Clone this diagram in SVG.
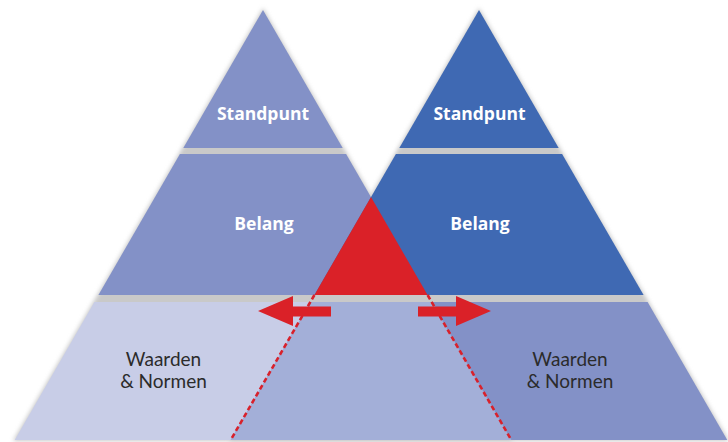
<svg xmlns="http://www.w3.org/2000/svg" width="728" height="442" viewBox="0 0 728 442">
<defs>
<filter id="sh" x="-10%" y="-10%" width="120%" height="120%">
<feGaussianBlur stdDeviation="2.2"/>
</filter>
<style>
.shadow{fill:#c9c9c9;filter:url(#sh)}
.lp{fill:#8391c7}
.rp{fill:#3f69b3}
.lb{fill:#c8cde7}
.ov{fill:#a3afd8}
.rb{fill:#8391c7}
.red{fill:#da2128}
.t1{font-family:"Open Sans",Lato,"Liberation Sans",sans-serif;font-weight:bold;font-size:17.5px;fill:#ffffff;text-anchor:middle}
.t2{font-family:Lato,"Open Sans","Liberation Sans",sans-serif;font-size:19px;fill:#2b2b2b;text-anchor:middle}
.dash{stroke:#d8212b;stroke-width:2.6;stroke-dasharray:5 3;fill:none}
</style>
</defs>
<rect width="728" height="442" fill="#ffffff"/>
<g id="shadows">
<polygon class="shadow" points="263,8 513,441 13,441"/>
<polygon class="shadow" points="479,8 729,441 229,441"/>
</g>
<g id="left-standpunt">
<polygon class="lp" points="263,10 342.7,148 183.3,148"/>
<text class="t1" x="263" y="120">Standpunt</text>
</g>
<g id="right-standpunt">
<polygon class="rp" points="479,10 558.7,148 399.3,148"/>
<text class="t1" x="479.5" y="120">Standpunt</text>
</g>
<g id="left-belang">
<polygon class="lp" points="179.9,154 346.1,154 427.6,295 98.4,295"/>
<text class="t1" x="264" y="230">Belang</text>
</g>
<g id="right-belang">
<polygon class="rp" points="395.9,154 562.1,154 643.6,295 314.4,295"/>
<text class="t1" x="480" y="230">Belang</text>
</g>
<g id="overlap-belang">
<polygon class="red" points="371,197 427.6,295 314.4,295"/>
</g>
<g id="left-waarden">
<polygon class="lb" points="94.4,302 431.6,302 511.3,440 14.7,440"/>
<text class="t2" x="163.5" y="366">Waarden</text>
<text class="t2" x="163.5" y="388">&amp; Normen</text>
</g>
<g id="right-waarden">
<polygon class="rb" points="310.4,302 647.6,302 727.3,440 230.7,440"/>
<text class="t2" x="570" y="366">Waarden</text>
<text class="t2" x="570" y="388">&amp; Normen</text>
</g>
<g id="overlap-waarden">
<polygon class="ov" points="310.4,302 431.6,302 511.3,440 230.7,440"/>
</g>
<g id="connectors">
<line class="dash" x1="314.4" y1="295" x2="230.7" y2="440"/>
<line class="dash" x1="427.6" y1="295" x2="511.3" y2="440"/>
<polygon class="red" points="258,311 293,296 293,306.5 331,306.5 331,316.5 293,316.5 293,326"/>
<polygon class="red" points="491,311 456,296 456,306.5 418,306.5 418,316.5 456,316.5 456,326"/>
</g>
</svg>
